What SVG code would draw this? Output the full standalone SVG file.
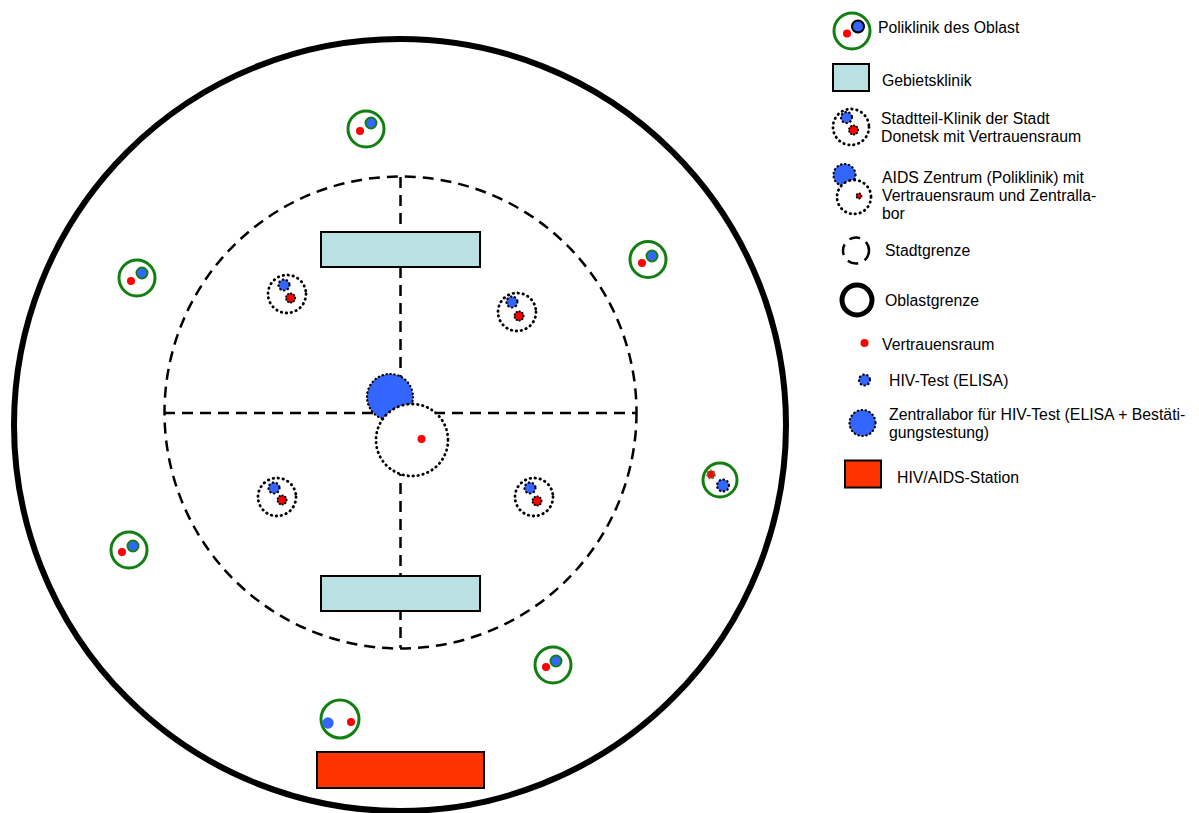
<svg xmlns="http://www.w3.org/2000/svg" width="1199" height="813" viewBox="0 0 1199 813">
<style>
text{font-family:"Liberation Sans",Arial,sans-serif;font-size:15.8px;fill:#000}
.poly{fill:#fff;stroke:#118011;stroke-width:3}
.red{fill:#ff0000}
.blue{fill:#3366ff}
.bluer{fill:#3366ff;stroke:#118011;stroke-width:2}
.dot{fill:#fff;stroke:#000;stroke-width:2.8;stroke-dasharray:0.5 4.5;stroke-linecap:round}
.bdot{fill:#3366ff;stroke:#000;stroke-width:2.2;stroke-dasharray:0.5 3.5;stroke-linecap:round}
.rdot{fill:#ff0000;stroke:#000;stroke-width:2;stroke-dasharray:0.5 2.5;stroke-linecap:round}
.dash{fill:none;stroke:#000;stroke-width:2.5;stroke-dasharray:11 7}
.geb{fill:#b9e0e2;stroke:#000;stroke-width:2}
.stat{fill:#ff3300;stroke:#000;stroke-width:2}
</style>
<rect width="1199" height="813" fill="#fff"/>
<g id="oblast">
<circle cx="400" cy="425" r="386" fill="none" stroke="#000" stroke-width="6"/>
</g>
<g id="connectors">
<circle cx="400.5" cy="412.5" r="236" class="dash"/>
<line x1="400.5" y1="177" x2="400.5" y2="648" class="dash"/>
<line x1="164" y1="413" x2="637" y2="413" class="dash"/>
</g>
<g id="gebiet-top"><rect x="321" y="232" width="159" height="35" class="geb"/></g>
<g id="gebiet-bottom"><rect x="321" y="576" width="159" height="35" class="geb"/></g>
<g id="station"><rect x="317" y="752" width="167" height="36" class="stat"/></g>
<g id="aids-zentrum">
<circle cx="390" cy="397" r="23" class="bdot"/>
<circle cx="412" cy="440" r="36" class="dot"/>
<circle cx="421.5" cy="439" r="4" class="red"/>
</g>
<g id="stadtteil-1"><circle cx="287" cy="294" r="19" class="dot"/><circle cx="284" cy="285" r="5.5" class="bdot"/><circle cx="290.5" cy="298" r="4.5" class="rdot"/></g>
<g id="stadtteil-2"><circle cx="517" cy="312" r="19" class="dot"/><circle cx="512" cy="302" r="5.5" class="bdot"/><circle cx="519" cy="316" r="4.5" class="rdot"/></g>
<g id="stadtteil-3"><circle cx="277" cy="497" r="19" class="dot"/><circle cx="274" cy="488" r="5.5" class="bdot"/><circle cx="282" cy="500" r="4.5" class="rdot"/></g>
<g id="stadtteil-4"><circle cx="534" cy="497" r="19" class="dot"/><circle cx="530" cy="488" r="5.5" class="bdot"/><circle cx="537" cy="501" r="4.5" class="rdot"/></g>
<g id="poly-1"><circle cx="366" cy="129" r="18" class="poly"/><circle cx="360" cy="131" r="4" class="red"/><circle cx="371" cy="123" r="5.5" class="bluer"/></g>
<g id="poly-2"><circle cx="137" cy="278" r="18" class="poly"/><circle cx="131" cy="281" r="4" class="red"/><circle cx="142" cy="273" r="5.5" class="bluer"/></g>
<g id="poly-3"><circle cx="648" cy="259.5" r="18" class="poly"/><circle cx="642" cy="263" r="4" class="red"/><circle cx="652" cy="256" r="5.5" class="bluer"/></g>
<g id="poly-4"><circle cx="129" cy="550" r="18" class="poly"/><circle cx="122" cy="552" r="4" class="red"/><circle cx="133" cy="546" r="5.5" class="bluer"/></g>
<g id="poly-5"><circle cx="553" cy="665" r="18" class="poly"/><circle cx="546" cy="667" r="4" class="red"/><circle cx="556" cy="661" r="5.5" class="bluer"/></g>
<g id="poly-6"><circle cx="340" cy="719" r="19" class="poly"/><circle cx="328" cy="723" r="5.7" class="blue"/><circle cx="351" cy="722" r="4" class="red"/></g>
<g id="poly-7"><circle cx="720" cy="480" r="17" class="poly"/><circle cx="711" cy="474.5" r="4" class="red" stroke="#4a8a3a" stroke-width="2" stroke-dasharray="1.5 2"/><circle cx="723" cy="485.5" r="6" class="bdot"/></g>
<g id="legend">
<g id="leg-poly"><circle cx="852" cy="31" r="18" class="poly"/><circle cx="847" cy="33.5" r="4" class="red"/><circle cx="858" cy="26.5" r="6" class="blue" stroke="#000" stroke-width="2"/><text x="878" y="33">Poliklinik des Oblast</text></g>
<g id="leg-geb"><rect x="833" y="64" width="36" height="27" class="geb"/><text x="882" y="86">Gebietsklinik</text></g>
<g id="leg-stadtteil"><circle cx="851" cy="127" r="18" class="dot"/><circle cx="846.5" cy="117.5" r="5.5" class="bdot"/><circle cx="853.5" cy="130" r="4.5" class="rdot"/><text x="881" y="124">Stadtteil-Klinik der Stadt</text><text x="881" y="142">Donetsk mit Vertrauensraum</text></g>
<g id="leg-aids"><circle cx="844.5" cy="175" r="11" class="bdot"/><circle cx="854" cy="197" r="17" class="dot"/><circle cx="859" cy="196" r="2.5" class="rdot"/><text x="882" y="183">AIDS Zentrum (Poliklinik) mit</text><text x="882" y="201">Vertrauensraum und Zentralla-</text><text x="882" y="219">bor</text></g>
<g id="leg-stadt"><circle cx="856" cy="250.5" r="13" class="dash" stroke-dasharray="7 6"/><text x="885" y="256">Stadtgrenze</text></g>
<g id="leg-oblast"><circle cx="857" cy="300" r="15" fill="none" stroke="#000" stroke-width="5"/><text x="885" y="306">Oblastgrenze</text></g>
<g id="leg-vertrauen"><circle cx="864.5" cy="343" r="4" class="red"/><text x="882" y="350">Vertrauensraum</text></g>
<g id="leg-hiv"><circle cx="864.5" cy="380" r="5.5" class="bdot"/><text x="889" y="386">HIV-Test (ELISA)</text></g>
<g id="leg-zentrallabor"><circle cx="862.5" cy="423" r="13" class="bdot"/><text x="889" y="420">Zentrallabor für HIV-Test (ELISA + Bestäti-</text><text x="889" y="438">gungstestung)</text></g>
<g id="leg-station"><rect x="845" y="460.5" width="36" height="27" class="stat"/><text x="897" y="483">HIV/AIDS-Station</text></g>
</g>
</svg>
